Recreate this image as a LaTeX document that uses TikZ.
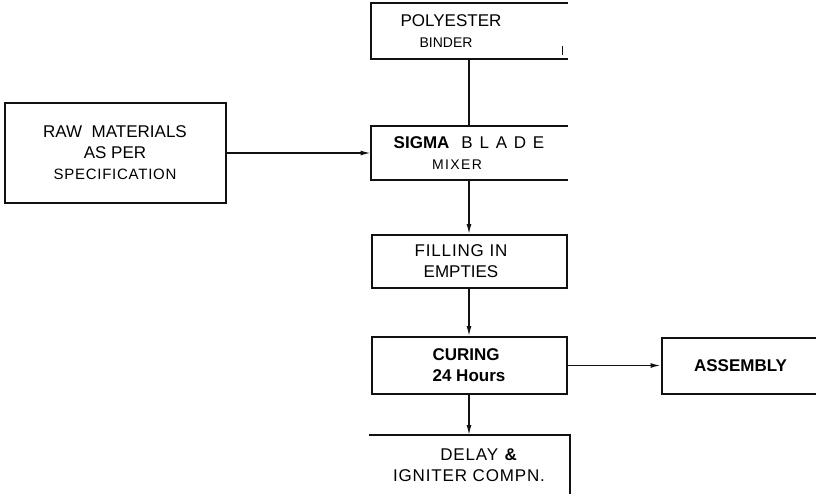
\documentclass[tikz,border=0pt]{standalone}
\usepackage{fontspec}
\setmainfont{Liberation Sans}
\definecolor{ink}{HTML}{111111}
\usetikzlibrary{arrows.meta,positioning}
\tikzset{
  proc_box/.style={draw=ink,line width=2pt,minimum width=195pt,minimum height=54pt,
    inner sep=0pt,align=center,font=\fontsize{17}{21}\selectfont},
  proc_open/.style={proc_box,draw=none},
  side/.style={draw=ink,line width=2pt},
  arr/.style={-{Latex[length=10pt,width=5pt]},draw=ink,line width=1.3pt},
}

\begin{document}
\begin{tikzpicture}[x=1pt,y=1pt]
  \useasboundingbox (0,0) rectangle (816,-493);

  \node[proc_open,minimum height=52pt] (sigma) at (469,-153)
    {\textbf{SIGMA}\hspace{12pt}{\addfontfeatures{LetterSpace=12}B L A D E}\\
     {\fontsize{14}{21}\selectfont\addfontfeatures{LetterSpace=10}MIXER}\hspace*{24pt}};
  \node[proc_open,above=67pt of sigma] (poly)
    {POLYESTER\hspace*{36pt}\\{\fontsize{14}{21}\selectfont BINDER}\hspace*{46pt}};
  \node[proc_box,minimum height=53pt,below=54pt of sigma] (fill)
    {{\addfontfeatures{LetterSpace=5}FILLING IN}\hspace*{16pt}\\EMPTIES\hspace*{16pt}};
  \node[proc_box,minimum height=57pt,below=47pt of fill,align=left] (cure)
    {\textbf{CURING}\\\textbf{24 Hours}};
  \node[proc_open,minimum width=199pt,minimum height=59pt,below=40pt of cure] (delay)
    {\hspace*{20pt}{\addfontfeatures{LetterSpace=5}DELAY \textbf{\&}}\\{\addfontfeatures{LetterSpace=5}IGNITER COMPN.}};
  \node[proc_box,minimum width=221pt,minimum height=100pt,left=144pt of sigma] (raw)
    {RAW\ \ MATERIALS\\AS PER\\{\fontsize{15}{21}\selectfont\addfontfeatures{LetterSpace=5}SPECIFICATION}};
  \node[proc_box,minimum width=158pt,minimum height=56pt,right=93pt of cure] (asm) {\textbf{ASSEMBLY}};

  % boxes with an open side
  \draw[side] (poly.north east) -- (poly.north west) -- (poly.south west) -- (poly.south east);
  \draw[ink,line width=0.8pt] ([xshift=-5pt,yshift=4pt]poly.south east) -- ++(0,9);
  \draw[side] (sigma.north east) -- (sigma.north west) -- (sigma.south west) -- (sigma.south east);
  \draw[side] (delay.north west) -- (delay.north east) -- (delay.south east) -- (delay.south west);

  \draw[side,line width=1.6pt] (poly) -- (sigma);
  \draw[arr] (raw) -- (sigma);
  \draw[arr] (sigma) -- (fill);
  \draw[arr] (fill) -- (cure);
  \draw[arr] (cure) -- (delay);
  \draw[arr] (cure) -- (asm);
\end{tikzpicture}
\end{document}
